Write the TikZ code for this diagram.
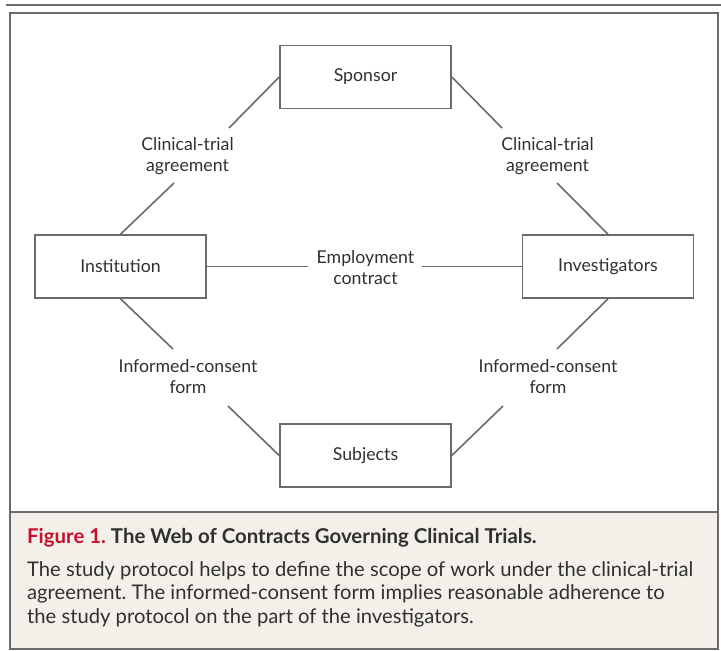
\documentclass[tikz,border=0pt]{standalone}
\usepackage{fontspec}
\setmainfont{Lato}
\frenchspacing
\definecolor{capbg}{HTML}{F3F0EA}
\definecolor{figred}{HTML}{C8102E}
\definecolor{ink}{HTML}{303030}
\definecolor{rulegray}{HTML}{6A6A6A}

\begin{document}
\begin{tikzpicture}[x=1pt,y=-1pt,
    party/.style={draw=rulegray,line width=1.6pt,minimum width=171pt,minimum height=63pt,
      inner sep=0pt,text=ink,font=\fontsize{17.7}{21}\selectfont},
    tag/.style={align=center,text=ink,font=\fontsize{17.7}{21}\selectfont,inner sep=0pt},
    link/.style={draw=rulegray,line width=1.6pt}]
  \useasboundingbox (0,0) rectangle (721,651);
  % frame and caption panel
  \draw[rulegray,line width=2.2pt] (6,5) -- (721,5);
  \fill[capbg] (10,512) rectangle (718,649);
  \draw[rulegray,line width=1.6pt] (10,13) rectangle (718,649);
  \draw[rulegray,line width=1.6pt] (10,512) -- (718,512);
  % parties
  \draw
    (365.5,77) node[party] (spon){Sponsor}
    (120.5,266.5) node[party] (inst){Institution}
    (608,266.5) node[party] (inv){Investigators}
    (365.5,455.5) node[party] (subj){Subjects};
  % contracts
  \draw
    (187.5,156) node[tag] (ctaL){Clinical-trial\\agreement}
    (547.5,156) node[tag] (ctaR){Clinical-trial\\agreement}
    (365.5,268) node[tag] (emp){Employment\\contract}
    (188,377) node[tag] (icfL){Informed-consent\\form}
    (548,377) node[tag] (icfR){Informed-consent\\form};
  % ends of the cut lines
  \coordinate (ctaLa) at (229,128);
  \coordinate (ctaLb) at (174,183);
  \coordinate (ctaRa) at (502,128);
  \coordinate (ctaRb) at (557,183);
  \coordinate (empa) at (308,266.5);
  \coordinate (empb) at (422,266.5);
  \coordinate (icfLa) at (173,349);
  \coordinate (icfLb) at (228,406);
  \coordinate (icfRa) at (557,349);
  \coordinate (icfRb) at (503,406);
  \begin{scope}[link]
    \draw (spon.west) to (ctaLa);
    \draw (ctaLb) to (inst.north);
    \draw (spon.east) to (ctaRa);
    \draw (ctaRb) to (inv.north);
    \draw (inst.east) to (empa);
    \draw (empb) to (inv.west);
    \draw (inst.south) to (icfLa);
    \draw (icfLb) to (subj.west);
    \draw (inv.south) to (icfRa);
    \draw (icfRb) to (subj.east);
  \end{scope}
  % caption
  \node[anchor=base west,inner sep=0pt,text=ink,font=\fontsize{20.4}{24}\selectfont\bfseries]
    (title) at (27,543) {{\color{figred}Figure 1.} The Web of Contracts Governing Clinical Trials.};
  \node[anchor=base west,inner sep=0pt,text=ink,align=left,font=\fontsize{20.2}{23.5}\selectfont]
    (body) at (27,623) {The study protocol helps to define the scope of work under the clinical-trial\\
    agreement. The informed-consent form implies reasonable adherence to\\
    the study protocol on the part of the investigators.};
\end{tikzpicture}
\end{document}
